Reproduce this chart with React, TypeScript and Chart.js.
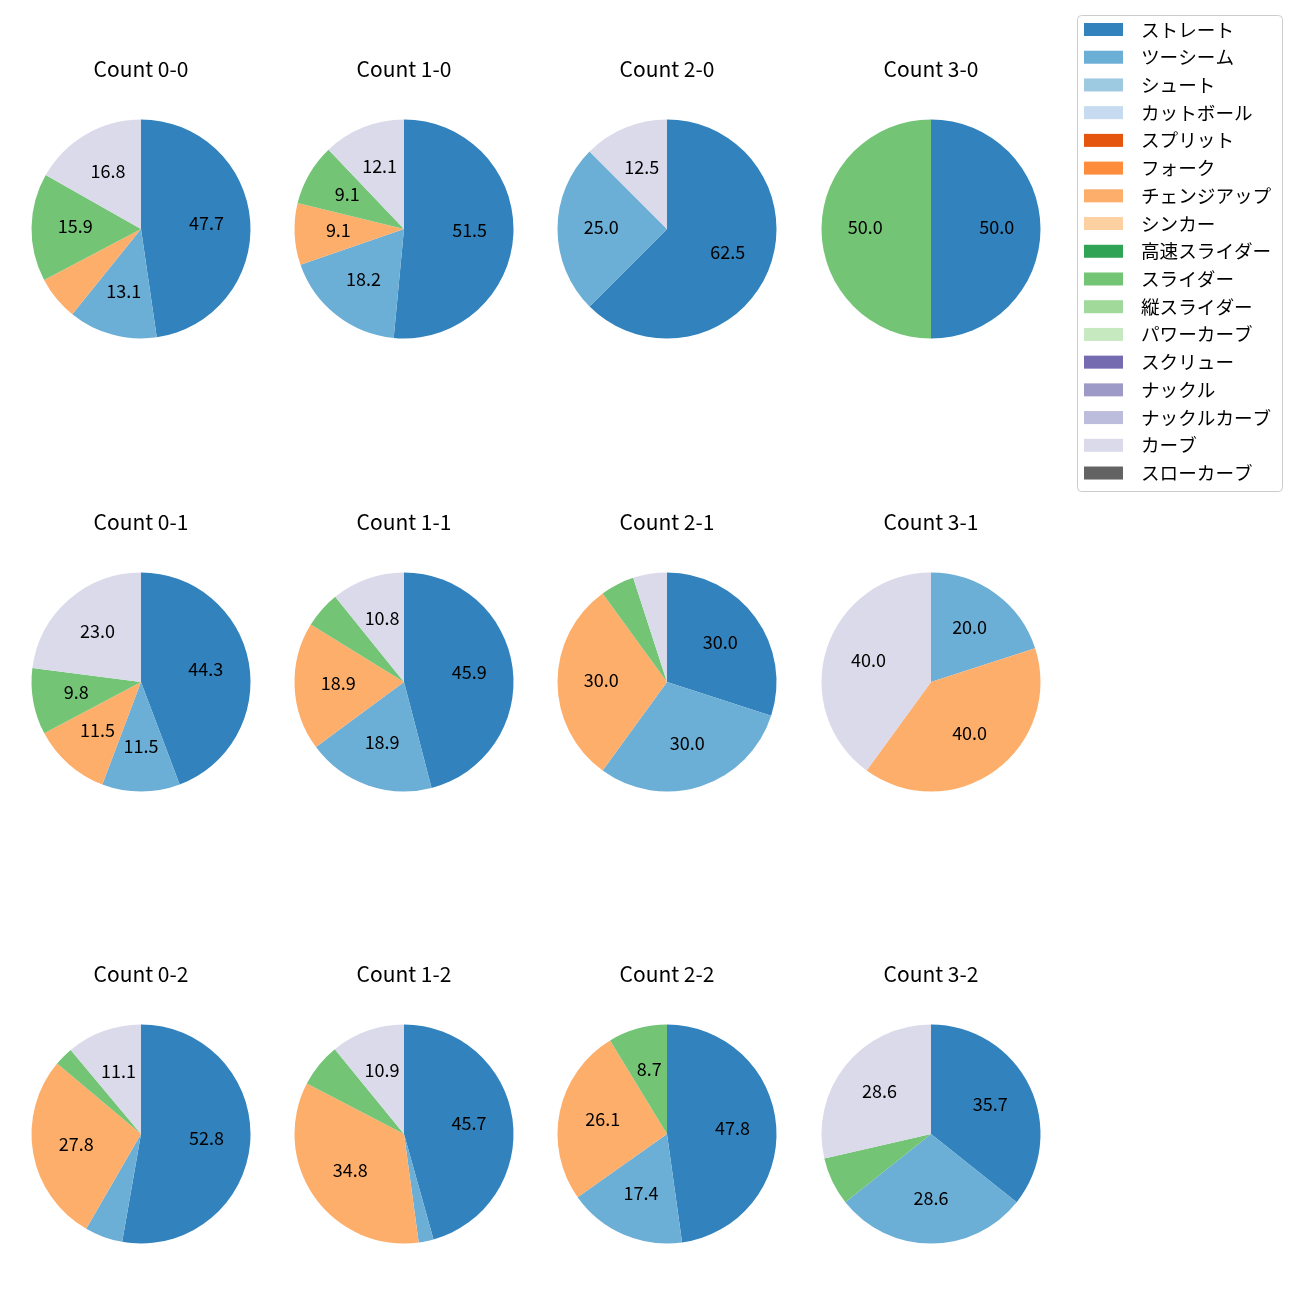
import React, { useEffect, useRef } from 'react';
import { Chart, registerables } from 'chart.js';

Chart.register(...registerables);

// ---------- data ----------
const pitchTypes = [
  'ストレート', 'ツーシーム', 'シュート', 'カットボール', 'スプリット', 'フォーク',
  'チェンジアップ', 'シンカー', '高速スライダー', 'スライダー', '縦スライダー',
  'パワーカーブ', 'スクリュー', 'ナックル', 'ナックルカーブ', 'カーブ', 'スローカーブ',
];
const pitchColors = [
  '#3182bd', '#6baed6', '#9ecae1', '#c6dbef', '#e6550d', '#fd8d3c',
  '#fdae6b', '#fdd0a2', '#31a354', '#74c476', '#a1d99b',
  '#c7e9c0', '#756bb1', '#9e9ac8', '#bcbddc', '#dadaeb', '#636363',
];
const countLabels = ['0-0', '1-0', '2-0', '3-0', '0-1', '1-1', '2-1', '3-1', '0-2', '1-2', '2-2', '3-2'];

// percentage share per count (same order as countLabels)
const straightPct = [47.7, 51.5, 62.5, 50.0, 44.3, 45.9, 30.0, 0, 52.8, 45.7, 47.8, 35.7];
const twoSeamPct = [13.1, 18.2, 25.0, 0, 11.5, 18.9, 30.0, 20.0, 5.6, 2.2, 17.4, 28.6];
const changeupPct = [6.5, 9.1, 0, 0, 11.5, 18.9, 30.0, 40.0, 27.8, 34.8, 26.1, 0];
const sliderPct = [15.9, 9.1, 0, 50.0, 9.8, 5.4, 5.0, 0, 2.8, 6.5, 8.7, 7.1];
const curvePct = [16.8, 12.1, 12.5, 0, 23.0, 10.8, 5.0, 40.0, 11.1, 10.9, 0, 28.6];

// ---------- layout / style ----------
const FONT = '"Noto Sans CJK JP", "Noto Sans", sans-serif';
const COL_X = [141, 404, 667, 931];
const ROW_Y = [229, 682, 1134];
const PIE_R = 109.5;
const CANVAS_W = 262;
const CANVAS_H = 300;
const TITLE_BAND = 80;
const LABEL_MIN = 8;

function seriesFor(idx: number): number[] {
  const arr = pitchTypes.map(() => 0);
  arr[pitchTypes.indexOf('ストレート')] = straightPct[idx];
  arr[pitchTypes.indexOf('ツーシーム')] = twoSeamPct[idx];
  arr[pitchTypes.indexOf('チェンジアップ')] = changeupPct[idx];
  arr[pitchTypes.indexOf('スライダー')] = sliderPct[idx];
  arr[pitchTypes.indexOf('カーブ')] = curvePct[idx];
  return arr;
}

const pctLabelPlugin = {
  id: 'pctLabels',
  afterDatasetsDraw(chart: any) {
    const ctx = chart.ctx;
    const meta = chart.getDatasetMeta(0);
    const values = chart.data.datasets[0].data as number[];
    ctx.save();
    ctx.font = `18px ${FONT}`;
    ctx.fillStyle = '#000';
    ctx.textAlign = 'center';
    ctx.textBaseline = 'middle';
    meta.data.forEach((arc: any, i: number) => {
      const v = values[i];
      if (!v || v < LABEL_MIN) return;
      const p = arc.getProps(['x', 'y', 'startAngle', 'endAngle', 'outerRadius'], true);
      const mid = (p.startAngle + p.endAngle) / 2;
      const r = p.outerRadius * 0.6;
      ctx.fillText(v.toFixed(1), p.x + Math.cos(mid) * r, p.y + Math.sin(mid) * r - 1.5);
    });
    ctx.restore();
  },
};

const LEG_LEFT = 1070;
const LEG_TOP = 8;
const legendPlugin = {
  id: 'legendBox',
  afterDraw(chart: any) {
    const ctx = chart.ctx;
    const labels = chart.data.labels as string[];
    const colors = chart.data.datasets[0].backgroundColor as string[];
    ctx.save();
    ctx.beginPath();
    (ctx as any).roundRect(1077.5 - LEG_LEFT, 15.5 - LEG_TOP, 205, 476, 4);
    ctx.fillStyle = 'rgba(255,255,255,0.8)';
    ctx.fill();
    ctx.strokeStyle = '#cccccc';
    ctx.lineWidth = 1;
    ctx.stroke();
    ctx.font = `18.6px ${FONT}`;
    ctx.textAlign = 'left';
    ctx.textBaseline = 'middle';
    labels.forEach((lab, i) => {
      const cy = 29.5 + i * 27.72 - LEG_TOP;
      ctx.fillStyle = colors[i];
      ctx.fillRect(1084 - LEG_LEFT, cy - 6.5, 39, 13);
      ctx.fillStyle = '#000';
      ctx.fillText(lab, 1141 - LEG_LEFT, cy);
    });
    ctx.restore();
  },
};

function PieCell({ idx }: { idx: number }) {
  const ref = useRef<HTMLCanvasElement | null>(null);
  useEffect(() => {
    if (!ref.current) return;
    const titleSize = 21;
    const titleCenter = 30;
    const padTop = titleCenter - titleSize / 2;
    const chart = new Chart(ref.current, {
      type: 'pie',
      data: {
        labels: pitchTypes,
        datasets: [
          {
            data: seriesFor(idx),
            backgroundColor: pitchColors,
            borderWidth: 0,
            hoverOffset: 0,
            radius: PIE_R,
          } as any,
        ],
      },
      options: {
        responsive: false,
        animation: false,
        events: [],
        layout: { padding: 0 },
        plugins: {
          legend: { display: false },
          tooltip: { enabled: false },
          title: {
            display: true,
            text: 'Count ' + countLabels[idx],
            color: '#000',
            font: { family: FONT, size: titleSize, weight: 'normal', lineHeight: 1 },
            padding: { top: padTop, bottom: TITLE_BAND - padTop - titleSize },
          },
        },
      } as any,
      plugins: [pctLabelPlugin],
    });
    return () => chart.destroy();
  }, [idx]);
  const col = idx % 4;
  const row = Math.floor(idx / 4);
  return (
    <canvas
      ref={ref}
      width={CANVAS_W}
      height={CANVAS_H}
      style={{
        position: 'absolute',
        left: COL_X[col] - CANVAS_W / 2,
        top: ROW_Y[row] - (TITLE_BAND + 110),
        width: CANVAS_W,
        height: CANVAS_H,
      }}
    />
  );
}

function LegendCell() {
  const ref = useRef<HTMLCanvasElement | null>(null);
  useEffect(() => {
    if (!ref.current) return;
    const chart = new Chart(ref.current, {
      type: 'pie',
      data: {
        labels: pitchTypes,
        datasets: [{ data: pitchTypes.map(() => 0), backgroundColor: pitchColors, borderWidth: 0 }],
      },
      options: {
        responsive: false,
        animation: false,
        events: [],
        plugins: { legend: { display: false }, tooltip: { enabled: false } },
      } as any,
      plugins: [legendPlugin],
    });
    return () => chart.destroy();
  }, []);
  return (
    <canvas
      ref={ref}
      width={225}
      height={495}
      style={{ position: 'absolute', left: LEG_LEFT, top: LEG_TOP, width: 225, height: 495 }}
    />
  );
}

export default function App() {
  return (
    <div style={{ position: 'absolute', left: 0, top: 0, width: 1300, height: 1300, background: '#fff' }}>
      {countLabels.map((_, i) => (
        <PieCell key={i} idx={i} />
      ))}
      <LegendCell />
    </div>
  );
}
